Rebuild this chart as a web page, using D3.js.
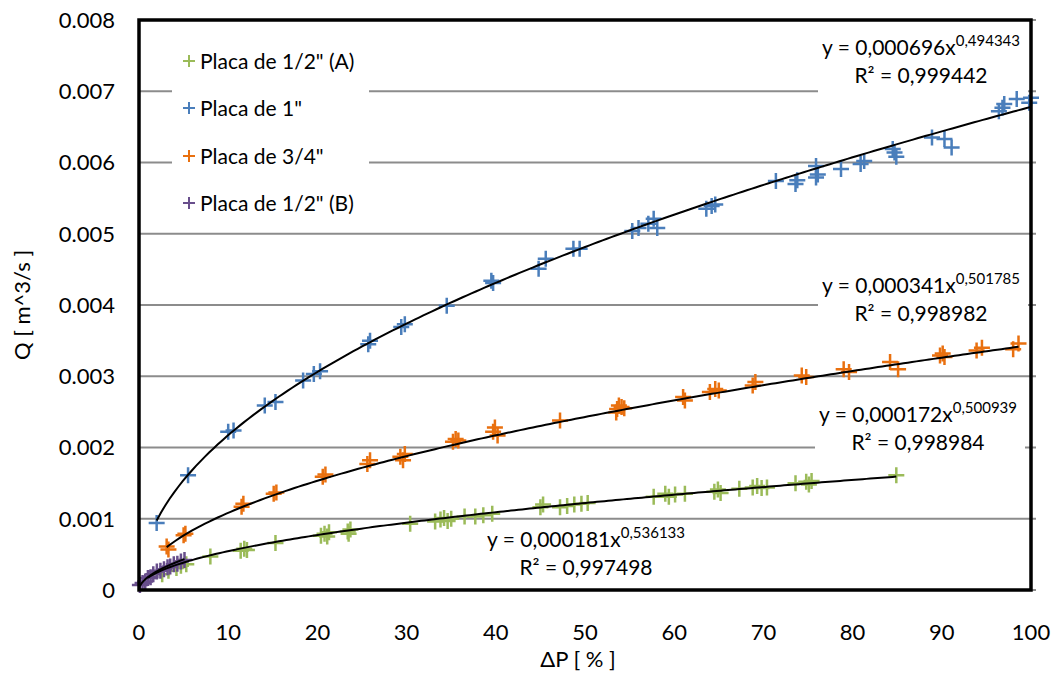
<!DOCTYPE html>
<html>
<head>
<meta charset="utf-8">
<script src="https://cdn.jsdelivr.net/npm/d3@7"></script>
<style>
  body { margin: 0; background: #fff; }
  text { font-family: Lato, "Open Sans", sans-serif; fill: #000; }
</style>
</head>
<body>
<div id="chart"></div>
<script>
// series data (x = ΔP %, y = Q m^3/s)
const seriesNames = ['Placa de 1/2" (A)', 'Placa de 1"', 'Placa de 3/4"', 'Placa de 1/2" (B)'];
const seriesColors = ["#9BBB59", "#4A7EBB", "#E9700F", "#684E8C"];

const greenX = [2.6, 3.3, 4.2, 4.7, 5.3, 8.0, 11.4, 11.8, 12.1, 15.3, 20.4, 20.8, 21.1, 21.3, 23.4, 23.7, 23.5,
  30.4, 33.2, 33.8, 34.2, 34.6, 35.0, 36.5, 37.7, 38.6, 39.6, 45.0, 45.3, 47.2, 48.0, 48.8, 49.6, 50.3,
  57.7, 59.0, 59.4, 60.1, 61.2, 64.5, 64.9, 65.2, 67.3, 68.8, 69.3, 69.8, 70.4, 73.6, 74.8, 75.1, 75.4, 84.9];
const greenY = [0.22, 0.27, 0.31, 0.34, 0.36, 0.47, 0.55, 0.58, 0.56, 0.66, 0.76, 0.79, 0.75, 0.81, 0.82, 0.85, 0.79,
  0.93, 0.96, 0.99, 1.01, 0.97, 1.00, 1.03, 1.03, 1.05, 1.07, 1.16, 1.20, 1.16, 1.18, 1.20, 1.21, 1.22,
  1.31, 1.35, 1.31, 1.34, 1.35, 1.38, 1.41, 1.36, 1.42, 1.44, 1.46, 1.43, 1.44, 1.50, 1.52, 1.48, 1.53, 1.61];

const blueX = [1.98, 5.5, 10.0, 10.6, 14.1, 15.3, 18.4, 19.6, 20.3, 25.7, 25.9, 29.4, 29.8, 34.5, 39.5, 39.7,
  44.8, 45.6, 48.7, 49.4, 55.3, 56.0, 57.1, 57.7, 58.1, 63.6, 64.2, 64.6, 71.4, 73.6, 73.8, 75.9, 75.9, 76.1,
  78.7, 80.9, 81.3, 84.5, 84.7, 84.9, 88.9, 90.3, 91.1, 96.4, 96.8, 97.0, 98.4, 99.8, 100];
const blueY = [0.94, 1.61, 2.22, 2.24, 2.59, 2.64, 2.94, 3.03, 3.07, 3.45, 3.50, 3.69, 3.73, 3.99, 4.34, 4.31,
  4.51, 4.65, 4.79, 4.79, 5.04, 5.08, 5.14, 5.21, 5.08, 5.35, 5.39, 5.41, 5.74, 5.70, 5.75, 5.79, 5.95, 5.83,
  5.91, 5.98, 6.02, 6.19, 6.14, 6.08, 6.35, 6.33, 6.21, 6.72, 6.77, 6.82, 6.89, 6.84, 6.91];

const orangeX = [3.1, 3.3, 5.0, 5.2, 11.5, 11.7, 15.1, 15.4, 20.6, 20.9, 25.6, 25.9, 29.3, 29.6, 29.8, 35.2, 35.5, 35.8,
  39.7, 39.9, 40.2, 47.2, 53.5, 53.6, 53.8, 54.1, 54.4, 61.0, 61.2, 64.0, 64.6, 65.0, 68.8, 69.1, 74.3, 74.8,
  79.0, 79.6, 84.2, 85.1, 89.8, 90.3, 90.1, 93.9, 94.5, 98.0, 98.6];
const orangeY = [0.61, 0.57, 0.77, 0.79, 1.17, 1.21, 1.35, 1.37, 1.59, 1.62, 1.77, 1.82, 1.87, 1.82, 1.91, 2.08, 2.12, 2.10,
  2.22, 2.28, 2.17, 2.38, 2.49, 2.54, 2.59, 2.57, 2.55, 2.71, 2.66, 2.78, 2.82, 2.80, 2.87, 2.92, 3.01, 2.99,
  3.10, 3.06, 3.20, 3.10, 3.29, 3.27, 3.32, 3.36, 3.40, 3.38, 3.46];

const purpleX = [0.1, 0.4, 0.7, 1.0, 1.3, 1.6, 2.0, 2.4, 2.8, 3.2, 3.5, 3.9, 4.3, 4.7, 5.1];
const purpleY = [0.07, 0.10, 0.12, 0.17, 0.18, 0.22, 0.26, 0.27, 0.29, 0.32, 0.33, 0.36, 0.37, 0.40, 0.42];

// power-law trendlines y = a * x^b, in series order
const fitA = [0.000172, 0.000696, 0.000341, 0.000181];
const fitB = [0.500939, 0.494343, 0.501785, 0.536133];
const fitR2 = ["0,998984", "0,999442", "0,998982", "0,997498"];
const fitLabelA = ["0,000172", "0,000696", "0,000341", "0,000181"];
const fitLabelB = ["0,500939", "0,494343", "0,501785", "0,536133"];
const fitRange = [[1, 84.9], [1.98, 100], [3.1, 98.6], [0.1, 5.1]];

const yTicks = [0, 0.001, 0.002, 0.003, 0.004, 0.005, 0.006, 0.007, 0.008];
const xTicks = [0, 10, 20, 30, 40, 50, 60, 70, 80, 90, 100];

const width = 1057, height = 673;
const svg = d3.select("#chart").append("svg")
  .attr("width", width).attr("height", height);
svg.append("rect").attr("width", width).attr("height", height).attr("fill", "#fff");

const x = d3.scaleLinear().domain([0, 100]).range([139, 1031]);
const y = d3.scaleLinear().domain([0, 0.008]).range([590, 20]);

// gridlines
svg.append("g").selectAll("line").data(yTicks).join("line")
  .attr("x1", x(0)).attr("x2", x(100) + 5)
  .attr("y1", d => y(d)).attr("y2", d => y(d))
  .attr("stroke", "#8c8c8c").attr("stroke-width", 2);

// tick labels
svg.append("g").selectAll("text").data(yTicks).join("text")
  .attr("x", 115).attr("y", d => y(d)).attr("dy", "0.36em")
  .attr("text-anchor", "end").style("font-size", "22px")
  .text(d => d === 0 ? "0" : d3.format(".3f")(d));
svg.append("g").selectAll("text").data(xTicks).join("text")
  .attr("x", d => x(d)).attr("y", 640)
  .attr("text-anchor", "middle").style("font-size", "22px")
  .text(d => d);

// axis titles
svg.append("text").attr("transform", "translate(30,305) rotate(-90)")
  .attr("text-anchor", "middle").style("font-size", "22px").text("Q [ m^3/s ]");
svg.append("text").attr("x", 578).attr("y", 667)
  .attr("text-anchor", "middle").style("font-size", "22px").text("ΔP [ % ]");

// trendline label positions: [centre x, first baseline]
const labelPos = [[918, 422], [921, 55], [921, 293], [586, 547]];
svg.append("g").selectAll("rect").data(labelPos).join("rect")
  .attr("x", d => d[0] - 103).attr("y", d => d[1] - 24)
  .attr("width", 210).attr("height", d => d[1] > 500 ? 58 : 64)
  .attr("fill", "#fff");

// legend background
svg.append("rect").attr("x", 172).attr("y", 30).attr("width", 197).attr("height", 192).attr("fill", "#fff");

// markers
const allX = [greenX, blueX, orangeX, purpleX];
const allY = [greenY, blueY, orangeY, purpleY];
const plus = (g, s) => g.append("path").attr("d", `M${-s},0H${s}M0,${-s}V${s}`);

[2, 0, 3, 1].forEach(i => {
  const pts = allX[i].map((v, k) => [v, allY[i][k] / 1000]);
  const g = svg.append("g").attr("stroke", seriesColors[i]).attr("stroke-width", 2.5).attr("fill", "none");
  pts.forEach(p => {
    plus(g.append("g").attr("transform", `translate(${x(p[0])},${y(p[1])})`), 8);
  });
});

// trendlines
const line = d3.line().x(d => x(d[0])).y(d => y(d[1]));
fitA.forEach((a, i) => {
  const [lo, hi] = fitRange[i];
  const xs = d3.range(0, 201).map(k => lo + (hi - lo) * k / 200);
  svg.append("path")
    .attr("d", line(xs.map(v => [v, a * Math.pow(v, fitB[i])])))
    .attr("fill", "none").attr("stroke", "#000").attr("stroke-width", 2);
});

// trendline equations
labelPos.forEach((p, i) => {
  const t = svg.append("text").attr("x", p[0]).attr("y", p[1])
    .attr("text-anchor", "middle").style("font-size", "21px");
  t.append("tspan").text(`y = ${fitLabelA[i]}x`);
  t.append("tspan").attr("dy", -9).style("font-size", "15px").text(fitLabelB[i]);
  svg.append("text").attr("x", p[0]).attr("y", p[1] + 28)
    .attr("text-anchor", "middle").style("font-size", "21px")
    .text(`R² = ${fitR2[i]}`);
});

// plot frame
svg.append("rect").attr("x", x(0)).attr("y", y(0.008))
  .attr("width", x(100) - x(0)).attr("height", y(0) - y(0.008))
  .attr("fill", "none").attr("stroke", "#000").attr("stroke-width", 3.5);

// legend
const legendY = [61, 108, 156, 203];
seriesNames.forEach((name, i) => {
  const g = svg.append("g").attr("transform", `translate(189,${legendY[i]})`);
  plus(g, 6).attr("stroke", seriesColors[i]).attr("stroke-width", 2);
  g.append("text").attr("x", 11).attr("dy", "0.36em").style("font-size", "21px").text(name);
});
</script>
</body>
</html>
